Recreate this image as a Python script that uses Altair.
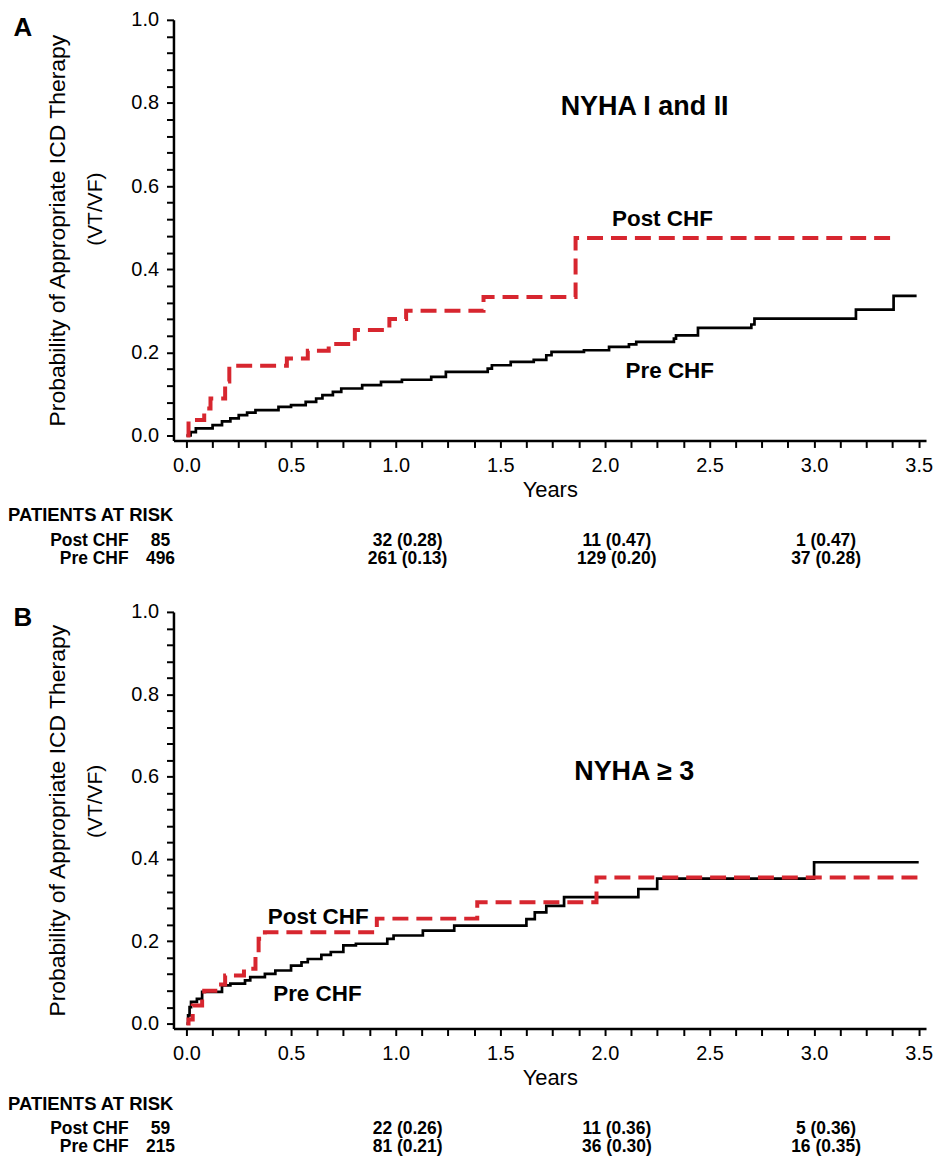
import altair as alt
import pandas as pd

# ---------------- data ----------------
# Panel A: NYHA I and II
a_post_t = [0.0, 0.01, 0.085, 0.115, 0.185, 0.205, 0.48, 0.58, 0.68, 0.805, 0.97, 1.05, 1.42, 1.86, 3.37]
a_post_p = [0.0, 0.037, 0.065, 0.089, 0.13, 0.168, 0.185, 0.204, 0.22, 0.254, 0.28, 0.30, 0.333, 0.475, 0.475]

a_pre_t = [0.0, 0.02, 0.045, 0.125, 0.17, 0.21, 0.25, 0.29, 0.33, 0.44, 0.50, 0.57, 0.62, 0.65, 0.70,
           0.74, 0.84, 0.93, 1.03, 1.17, 1.24, 1.44, 1.46, 1.55, 1.66, 1.72, 1.745, 1.90, 2.02, 2.115,
           2.15, 2.33, 2.34, 2.445, 2.70, 2.715, 3.20, 3.38, 3.49]
a_pre_p = [0.0, 0.008, 0.017, 0.025, 0.034, 0.041, 0.049, 0.055, 0.061, 0.069, 0.073, 0.081, 0.089, 0.097, 0.105,
           0.113, 0.121, 0.129, 0.134, 0.141, 0.153, 0.161, 0.169, 0.177, 0.182, 0.193, 0.201, 0.205, 0.213, 0.219,
           0.225, 0.233, 0.241, 0.259, 0.267, 0.281, 0.303, 0.336, 0.336]

# Panel B: NYHA >= 3
b_post_t = [0.0, 0.01, 0.03, 0.075, 0.085, 0.155, 0.185, 0.275, 0.33, 0.345, 0.375, 0.91, 1.39, 1.96, 3.5]
b_post_p = [0.0, 0.01, 0.044, 0.065, 0.08, 0.095, 0.117, 0.133, 0.165, 0.206, 0.222, 0.255, 0.295, 0.355, 0.355]

b_pre_t = [0.0, 0.008, 0.015, 0.022, 0.05, 0.075, 0.17, 0.21, 0.28, 0.305, 0.375, 0.425, 0.50, 0.55, 0.58,
           0.645, 0.69, 0.75, 0.81, 0.96, 0.99, 1.13, 1.28, 1.625, 1.665, 1.72, 1.805, 2.16, 2.25, 3.0, 3.5]
b_pre_p = [0.0, 0.02, 0.04, 0.053, 0.06, 0.077, 0.093, 0.097, 0.105, 0.113, 0.121, 0.129, 0.141, 0.149, 0.157,
           0.167, 0.174, 0.190, 0.194, 0.206, 0.214, 0.226, 0.238, 0.254, 0.270, 0.286, 0.307, 0.327, 0.352, 0.392, 0.392]

# axis ticks
x_tick_vals = [round(i * 0.125, 3) for i in range(29)]    # 0.0 .. 3.5, labels every 0.5
y_tick_vals = [round(i * 0.04, 2) for i in range(26)]     # 0.0 .. 1.0, labels every 0.2

# patients at risk
risk_years = [1.0, 2.0, 3.0]
a_n0 = ["85", "496"]
a_risk_post = ["32 (0.28)", "11 (0.47)", "1 (0.47)"]
a_risk_pre = ["261 (0.13)", "129 (0.20)", "37 (0.28)"]
b_n0 = ["59", "215"]
b_risk_post = ["22 (0.26)", "11 (0.36)", "5 (0.36)"]
b_risk_pre = ["81 (0.21)", "36 (0.30)", "16 (0.35)"]

# in-plot annotations (years, probability)
a_notes = {"label": ["NYHA I and II", "Post CHF", "Pre CHF"], "t": [2.19, 2.275, 2.31], "p": [0.79, 0.52, 0.156],
           "size": [27, 22.5, 22.5]}
b_notes = {"label": ["NYHA \u2265 3", "Post CHF", "Pre CHF"], "t": [2.14, 0.63, 0.626], "p": [0.61, 0.259, 0.073],
           "size": [27, 22.5, 22.5]}

# ---------------- styling ----------------
RED = "#d7262f"
FONT = "Liberation Sans"
NARROW = "Liberation Sans Narrow, Liberation Sans"
X_DOMAIN = [-0.062, 3.535]
W = 755
HF = 18.5  # risk-table header font size
TF = 17.5  # risk-table row font size


def make_panel(letter, post_t, post_p, pre_t, pre_p, notes, n0, risk_post, risk_pre, height, rows, letter_y):
    xs = alt.Scale(domain=X_DOMAIN, nice=False, zero=False)
    ys = alt.Scale(domain=[-0.012, 1.0], nice=False, zero=False)

    x_axis = alt.Axis(
        values=x_tick_vals,
        labelExpr="abs(datum.value*2 - round(datum.value*2)) < 0.001 ? format(datum.value, '.1f') : ''",
        title="Years", titleFontSize=22, titleFontWeight="normal", titlePadding=4, titleColor="black",
        labelFontSize=20, labelColor="black", labelPadding=8, labelFlush=False, labelOverlap=False,
        tickSize=7, tickWidth=2, tickColor="black", domainColor="black", domainWidth=2.5, grid=False,
    )
    y_axis = alt.Axis(
        values=y_tick_vals,
        labelExpr="abs(datum.value*5 - round(datum.value*5)) < 0.001 ? format(datum.value, '.1f') : ''",
        title="Probability of Appropriate ICD Therapy", titleFontSize=23,
        titleFontWeight="normal", titlePadding=62, titleColor="black",
        labelFontSize=20, labelColor="black", labelPadding=8, labelFlush=False, labelOverlap=False,
        tickSize=7, tickWidth=2, tickColor="black", domainColor="black", domainWidth=2.5, grid=False,
    )

    X = alt.X("t:Q", scale=xs, axis=x_axis)
    Y = alt.Y("p:Q", scale=ys, axis=y_axis)

    pre_df = pd.DataFrame({"t": pre_t, "p": pre_p})
    post_df = pd.DataFrame({"t": post_t, "p": post_p})

    pre_line = alt.Chart(pre_df).mark_line(
        interpolate="step-after", color="black", strokeWidth=2.7
    ).encode(x=X, y=Y)

    post_line = alt.Chart(post_df).mark_line(
        interpolate="step-after", color=RED, strokeWidth=4, strokeDash=[16, 8], strokeCap="butt"
    ).encode(x=X, y=Y)

    note_df = pd.DataFrame(notes)
    note_layers = []
    for i in range(len(note_df)):
        note_layers.append(
            alt.Chart(note_df.iloc[[i]]).mark_text(
                font=FONT, fontWeight="bold", fontSize=float(note_df["size"][i]), color="black",
                align="center", baseline="middle"
            ).encode(x=X, y=Y, text="label:N")
        )

    letter_layer = alt.Chart(pd.DataFrame({"label": [letter]})).mark_text(
        font=FONT, fontWeight="bold", fontSize=26, color="black", align="center", baseline="middle"
    ).encode(x=alt.value(-151), y=alt.value(letter_y), text="label:N")

    subtitle = alt.Chart(pd.DataFrame({"label": ["(VT/VF)"]})).mark_text(
        font=NARROW, fontSize=21, color="black", align="center", baseline="middle", angle=270
    ).encode(x=alt.value(-78), y=alt.value(190), text="label:N")

    header = alt.Chart(pd.DataFrame({"label": ["PATIENTS AT RISK"]})).mark_text(
        font=FONT, fontWeight="bold", fontSize=HF, color="black", align="left", baseline="middle"
    ).encode(x=alt.value(-166), y=alt.value(rows[0]), text="label:N")

    table_layers = [header]
    for r, (name, n, vals) in enumerate([("Post CHF", n0[0], risk_post), ("Pre CHF", n0[1], risk_pre)]):
        ypix = rows[r + 1]
        table_layers.append(
            alt.Chart(pd.DataFrame({"label": [name]})).mark_text(
                font=FONT, fontWeight="bold", fontSize=TF, color="black", align="right", baseline="middle"
            ).encode(x=alt.value(-45), y=alt.value(ypix), text="label:N")
        )
        table_layers.append(
            alt.Chart(pd.DataFrame({"t": [0.0], "label": [n]})).mark_text(
                font=FONT, fontWeight="bold", fontSize=TF, color="black", align="center", baseline="middle", dx=-26
            ).encode(x=X, y=alt.value(ypix), text="label:N")
        )
        table_layers.append(
            alt.Chart(pd.DataFrame({"t": risk_years, "label": vals})).mark_text(
                font=FONT, fontWeight="bold", fontSize=TF, color="black", align="center", baseline="middle", dx=12
            ).encode(x=X, y=alt.value(ypix), text="label:N")
        )

    return alt.layer(pre_line, post_line, *note_layers, letter_layer, subtitle, *table_layers).properties(
        width=W, height=height
    )


panel_a = make_panel("A", a_post_t, a_post_p, a_pre_t, a_pre_p, a_notes, a_n0, a_risk_post, a_risk_pre,
                     422, [497, 523, 541], 8)
panel_b = make_panel("B", b_post_t, b_post_p, b_pre_t, b_pre_p, b_notes, b_n0, b_risk_post, b_risk_pre,
                     418, [494, 519, 537], 6)

chart = alt.vconcat(panel_a, panel_b, spacing=34).properties(padding=0).configure(
    font=FONT
).configure_view(stroke=None)

chart.save("out.html", embed_options={"renderer": "svg", "actions": False})
